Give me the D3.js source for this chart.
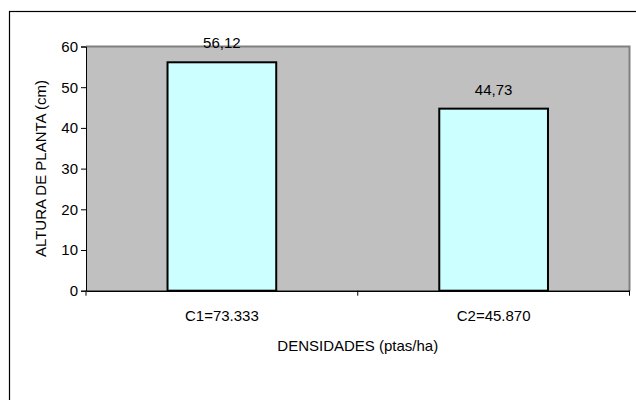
<!DOCTYPE html>
<html><head><meta charset="utf-8">
<script src="https://cdn.jsdelivr.net/npm/d3@7"></script>
<style>body{margin:0;background:#fff}svg{display:block}text{font-family:"Liberation Sans",Arial,sans-serif;fill:#000}</style>
</head><body><svg id="c" width="636" height="400"></svg>
<script>
const categories = ["C1=73.333", "C2=45.870"];
const values = [56.12, 44.73];
const valueLabels = ["56,12", "44,73"];
const yTicks = [0, 10, 20, 30, 40, 50, 60];
const xTitle = "DENSIDADES (ptas/ha)";
const yTitle = "ALTURA DE PLANTA (cm)";

const svg = d3.select("#c");
const m = {l: 86, t: 46.5, r: 629.5, b: 290.7};
svg.append("rect").attr("x", 9.5).attr("y", 11.5).attr("width", 700).attr("height", 500)
  .attr("fill", "#fff").attr("stroke", "#000").attr("stroke-width", 1.2);

const x = d3.scaleBand().domain(categories).range([m.l, m.r]).paddingInner(0.6).paddingOuter(0.3);
const xb = d3.scaleBand().domain(categories).range([m.l, m.r]);
const y = d3.scaleLinear().domain([0, 60]).range([m.b, m.t]);

svg.append("rect").attr("x", m.l).attr("y", m.t).attr("width", m.r - m.l).attr("height", m.b - m.t)
  .attr("fill", "#c0c0c0");
svg.append("path").attr("d", `M${m.l},${m.t}H${m.r}V${m.b}`).attr("fill", "none")
  .attr("stroke", "#808080").attr("stroke-width", 2);

svg.selectAll(".bar").data(values).join("rect")
  .attr("x", (d, i) => x(categories[i])).attr("width", x.bandwidth())
  .attr("y", d => y(d)).attr("height", d => y(0) - y(d))
  .attr("fill", "#ccffff").attr("stroke", "#000").attr("stroke-width", 2);

svg.selectAll(".vl").data(values).join("text")
  .attr("x", (d, i) => x(categories[i]) + x.bandwidth() / 2).attr("y", d => y(d) - 14)
  .attr("text-anchor", "middle").attr("font-size", 15).text((d, i) => valueLabels[i]);

// y axis
const ya = svg.append("g").attr("transform", `translate(${m.l},0)`)
  .call(d3.axisLeft(y).tickValues(yTicks).tickSize(5).tickPadding(3).tickFormat(d3.format("d")));
ya.select(".domain").attr("stroke", "#000");
ya.selectAll("text").attr("font-size", 15).attr("font-family", "Liberation Sans, Arial, sans-serif").attr("fill", "#000");

// x axis
const xa = svg.append("g").attr("transform", `translate(0,${m.b})`)
  .call(d3.axisBottom(xb).tickSize(0).tickPadding(20));
xa.select(".domain").attr("stroke", "#000").attr("stroke-width", 1.5);
xa.selectAll("text").attr("font-size", 15).attr("font-family", "Liberation Sans, Arial, sans-serif").attr("fill", "#000");
const bounds = [m.l, ...categories.map(c => xb(c) + xb.bandwidth())];
xa.selectAll(".sep").data(bounds).join("line")
  .attr("x1", d => d).attr("x2", d => d).attr("y1", 0).attr("y2", 5).attr("stroke", "#000");

svg.append("text").attr("x", (m.l + m.r) / 2).attr("y", 351).attr("text-anchor", "middle")
  .attr("font-size", 15).text(xTitle);
svg.append("text").attr("transform", `translate(46,${(m.t + m.b) / 2}) rotate(-90)`)
  .attr("text-anchor", "middle").attr("font-size", 15).text(yTitle);
</script></body></html>
